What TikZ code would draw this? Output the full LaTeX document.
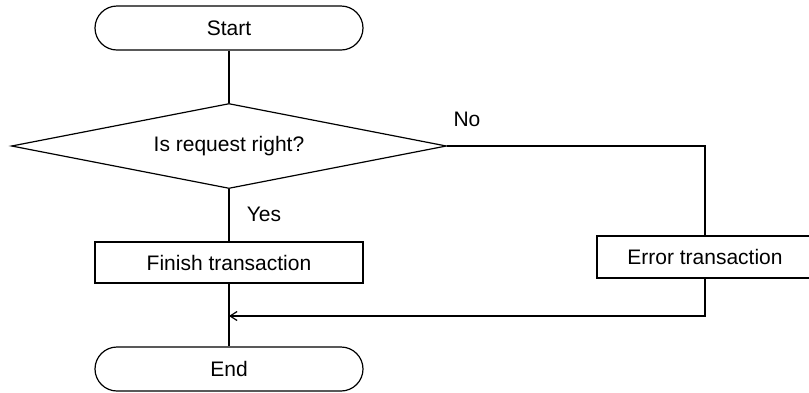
\documentclass[tikz,border=0pt]{standalone}
\usepackage{fontspec}
\setmainfont{Liberation Sans}
\usetikzlibrary{shapes.geometric, arrows.meta, positioning}
\tikzset{
  terminal/.style={rectangle, draw, rounded corners=22pt, minimum width=268pt, minimum height=44pt, line width=1.2pt, font=\fontsize{21}{24}\selectfont},
  decision/.style={diamond, draw, aspect=5, minimum width=435pt, minimum height=85pt, inner sep=0pt, line width=1.2pt, font=\fontsize{21}{24}\selectfont},
  process/.style={rectangle, draw, minimum width=268pt, minimum height=41pt, line width=1.2pt, font=\fontsize{21}{24}\selectfont},
  lbl/.style={font=\fontsize{21}{24}\selectfont, inner sep=0pt},
  line/.style={line width=1.2pt},
  arrow/.style={-{Straight Barb[length=7pt,width=9pt]}, line width=1.2pt}
}
\begin{document}
\begin{tikzpicture}[x=1pt, y=-1pt]
  \useasboundingbox (0,0) rectangle (809,392);
  % Blocks
  \node[terminal] (start) at (229,28) {Start};
  \node[decision] (check) at (229,146) {Is request right?};
  \node[process] (finish) at (229,262.5) {Finish transaction};
  \node[process, minimum width=216pt, minimum height=42pt] (error) at (705,257) {Error transaction};
  \node[terminal] (end) at (229,369) {End};
  \coordinate (merge) at (229,316);

  % Branch labels
  \node[lbl] (no) at (467,119) {No};
  \node[lbl] (yes) at (264,214) {Yes};

  % Connectors
  \draw[line] (start) -- (check);
  \draw[line] (check) -- (finish);
  \draw[line] (finish) -- (end);
  \draw[line] (check.east) -| (error.north);
  \draw[arrow] (error.south) |- (merge);
\end{tikzpicture}
\end{document}
